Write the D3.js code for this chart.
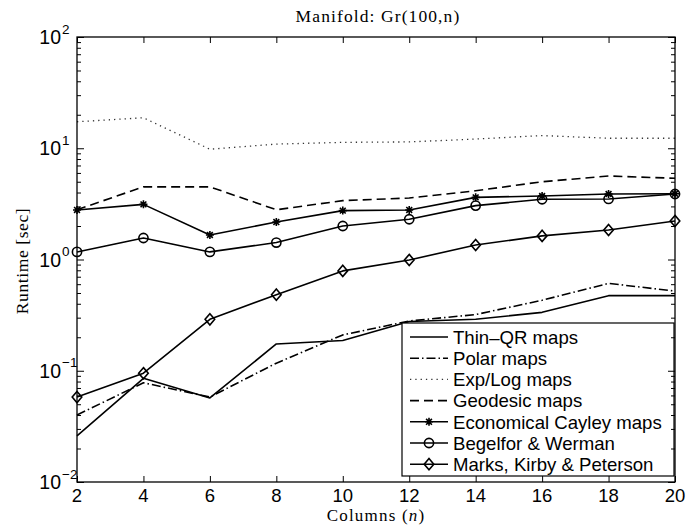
<!DOCTYPE html>
<html>
<head>
<meta charset="utf-8">
<script src="https://cdn.jsdelivr.net/npm/d3@7"></script>
<style>
  html, body { margin: 0; padding: 0; background: #fff; }
  svg { display: block; }
</style>
</head>
<body>
<svg id="chart" width="699" height="528"></svg>
<script>
// Runtime of retraction maps on the Grassmann manifold Gr(100,n)
const columns = [2, 4, 6, 8, 10, 12, 14, 16, 18, 20];
const thinQR   = [0.026, 0.0855, 0.057, 0.174, 0.187, 0.277, 0.29, 0.335, 0.473, 0.473];
const polar    = [0.040, 0.078, 0.058, 0.117, 0.21, 0.28, 0.32, 0.43, 0.61, 0.52];
const expLog   = [17.3, 18.8, 9.8, 10.9, 11.3, 11.4, 12.1, 13.0, 12.3, 12.3];
const geodesic = [2.8, 4.5, 4.5, 2.8, 3.38, 3.57, 4.15, 5.0, 5.63, 5.37];
const cayley   = [2.79, 3.13, 1.66, 2.17, 2.75, 2.79, 3.62, 3.72, 3.88, 3.9];
const begelfor = [1.17, 1.56, 1.17, 1.42, 2.0, 2.3, 3.05, 3.48, 3.5, 3.88];
const marks    = [0.058, 0.095, 0.29, 0.483, 0.79, 0.99, 1.35, 1.63, 1.84, 2.22];
const seriesNames = [
  "Thin\u2013QR maps", "Polar maps", "Exp/Log maps", "Geodesic maps",
  "Economical Cayley maps", "Begelfor & Werman", "Marks, Kirby & Peterson"
];
const xTicks = [2, 4, 6, 8, 10, 12, 14, 16, 18, 20];
const yDecades = [-2, -1, 0, 1, 2];

const titleText = "Manifold: Gr(100,n)";
const yLabelText = "Runtime [sec]";

const plotL = 77, plotR = 675, plotT = 37, plotB = 482;

const svg = d3.select("#chart");
const sans = "'Liberation Sans', Arial, Helvetica, sans-serif";
const serif = "'Liberation Serif', 'Times New Roman', serif";

const x = d3.scaleLinear().domain([2, 20]).range([plotL, plotR]);
const y = d3.scaleLog().domain([1e-2, 1e2]).range([plotB, plotT]);

// line styles per series
const styles = [
  { dash: null,          marker: null },
  { dash: "9,3,1.5,3",   marker: null },
  { dash: "1.3,4",       marker: null, color: "#333", width: 1.3 },
  { dash: "9,5",         marker: null },
  { dash: null,          marker: "star" },
  { dash: null,          marker: "circle" },
  { dash: null,          marker: "diamond" }
];
const data = [thinQR, polar, expLog, geodesic, cayley, begelfor, marks];
const series = data.map((vals, i) => ({
  name: seriesNames[i],
  points: columns.map((c, j) => ({ c, v: vals[j] })),
  ...styles[i]
}));

function drawMarker(g, kind, cx, cy) {
  if (kind === "circle") {
    g.append("circle").attr("cx", cx).attr("cy", cy).attr("r", 4.6)
      .attr("fill", "none").attr("stroke", "#000").attr("stroke-width", 1.6);
  } else if (kind === "diamond") {
    const w = 4.8, h = 5.6;
    g.append("path")
      .attr("d", `M${cx},${cy - h}L${cx + w},${cy}L${cx},${cy + h}L${cx - w},${cy}Z`)
      .attr("fill", "none").attr("stroke", "#000").attr("stroke-width", 1.6);
  } else if (kind === "star") {
    const r = 4, d = 2.9;
    g.append("path")
      .attr("d", `M${cx - r},${cy}L${cx + r},${cy}M${cx},${cy - r}L${cx},${cy + r}` +
                 `M${cx - d},${cy - d}L${cx + d},${cy + d}M${cx - d},${cy + d}L${cx + d},${cy - d}`)
      .attr("fill", "none").attr("stroke", "#000").attr("stroke-width", 1.6);
  }
}

// data lines and markers
const line = d3.line().x(d => x(d.c)).y(d => y(d.v));
const plot = svg.append("g");
series.forEach(s => {
  plot.append("path")
    .datum(s.points)
    .attr("d", line)
    .attr("fill", "none")
    .attr("stroke", s.color || "#000")
    .attr("stroke-width", s.width || 1.6)
    .attr("stroke-linejoin", "round")
    .attr("stroke-dasharray", s.dash);
  if (s.marker) {
    s.points.forEach(p => drawMarker(plot, s.marker, x(p.c), y(p.v)));
  }
});

// legend
const lg = svg.append("g");
const lgBox = { x0: 402, y0: 323, x1: 674, y1: 476 };
lg.append("rect")
  .attr("x", lgBox.x0).attr("y", lgBox.y0)
  .attr("width", lgBox.x1 - lgBox.x0).attr("height", lgBox.y1 - lgBox.y0)
  .attr("fill", "#fff").attr("stroke", "#000").attr("stroke-width", 1.2);
series.forEach((s, i) => {
  const cy = 337 + i * 21.2;
  lg.append("line")
    .attr("x1", 410).attr("x2", 448).attr("y1", cy).attr("y2", cy)
    .attr("stroke", s.color || "#000")
    .attr("stroke-width", s.width || 1.6)
    .attr("stroke-dasharray", s.dash);
  if (s.marker) drawMarker(lg, s.marker, 429, cy);
  lg.append("text")
    .attr("x", 453).attr("y", cy + 6.8)
    .attr("font-family", sans).attr("font-size", 18.6)
    .text(s.name);
});

// axes: inward ticks on all four sides
const minorVals = [];
yDecades.slice(0, -1).forEach(e => {
  for (let k = 2; k <= 9; k++) minorVals.push(k * Math.pow(10, e));
});
const majorVals = yDecades.map(e => Math.pow(10, e));

function styleAxis(g) {
  g.select(".domain").remove();
  g.selectAll(".tick line").attr("stroke", "#000").attr("stroke-width", 1);
  g.selectAll(".tick text").remove();
}

svg.append("g").attr("transform", `translate(0,${plotB})`)
  .call(d3.axisBottom(x).tickValues(xTicks).tickSizeInner(-6).tickSizeOuter(0)).call(styleAxis);
svg.append("g").attr("transform", `translate(0,${plotT})`)
  .call(d3.axisTop(x).tickValues(xTicks).tickSizeInner(-6).tickSizeOuter(0)).call(styleAxis);
svg.append("g").attr("transform", `translate(${plotL},0)`)
  .call(d3.axisLeft(y).tickValues(majorVals).tickSizeInner(-7).tickSizeOuter(0)).call(styleAxis);
svg.append("g").attr("transform", `translate(${plotL},0)`)
  .call(d3.axisLeft(y).tickValues(minorVals).tickSizeInner(-4).tickSizeOuter(0)).call(styleAxis);
svg.append("g").attr("transform", `translate(${plotR},0)`)
  .call(d3.axisRight(y).tickValues(majorVals).tickSizeInner(-7).tickSizeOuter(0)).call(styleAxis);
svg.append("g").attr("transform", `translate(${plotR},0)`)
  .call(d3.axisRight(y).tickValues(minorVals).tickSizeInner(-4).tickSizeOuter(0)).call(styleAxis);

// frame
svg.append("rect")
  .attr("x", plotL).attr("y", plotT)
  .attr("width", plotR - plotL).attr("height", plotB - plotT)
  .attr("fill", "none").attr("stroke", "#000").attr("stroke-width", 1.3);

// x tick labels
svg.append("g").selectAll("text").data(xTicks).join("text")
  .attr("x", d => x(d)).attr("y", 502)
  .attr("text-anchor", "middle")
  .attr("font-family", sans).attr("font-size", 18.5)
  .text(d => d);

// y tick labels as powers of ten
const yl = svg.append("g");
yDecades.forEach(e => {
  const py = y(Math.pow(10, e));
  yl.append("text")
    .attr("x", 61).attr("y", py + 7)
    .attr("text-anchor", "end")
    .attr("font-family", sans).attr("font-size", 19.5)
    .text("10");
  yl.append("text")
    .attr("x", 62).attr("y", py - 3.5)
    .attr("font-family", sans).attr("font-size", 13.5)
    .text(e < 0 ? "\u2212" + Math.abs(e) : String(e));
});

// title and axis labels
svg.append("text")
  .attr("x", 378).attr("y", 21.5)
  .attr("text-anchor", "middle")
  .attr("font-family", serif).attr("font-size", 17.5)
  .attr("letter-spacing", 1.1)
  .text(titleText);

const xl = svg.append("text")
  .attr("x", 376).attr("y", 521)
  .attr("text-anchor", "middle")
  .attr("font-family", serif).attr("font-size", 17)
  .attr("letter-spacing", 1.2);
xl.append("tspan").text("Columns (");
xl.append("tspan").attr("font-style", "italic").text("n");
xl.append("tspan").text(")");

svg.append("text")
  .attr("transform", "translate(28,261) rotate(-90)")
  .attr("text-anchor", "middle")
  .attr("font-family", serif).attr("font-size", 17.5)
  .attr("letter-spacing", 0.6)
  .text(yLabelText);
</script>
</body>
</html>
